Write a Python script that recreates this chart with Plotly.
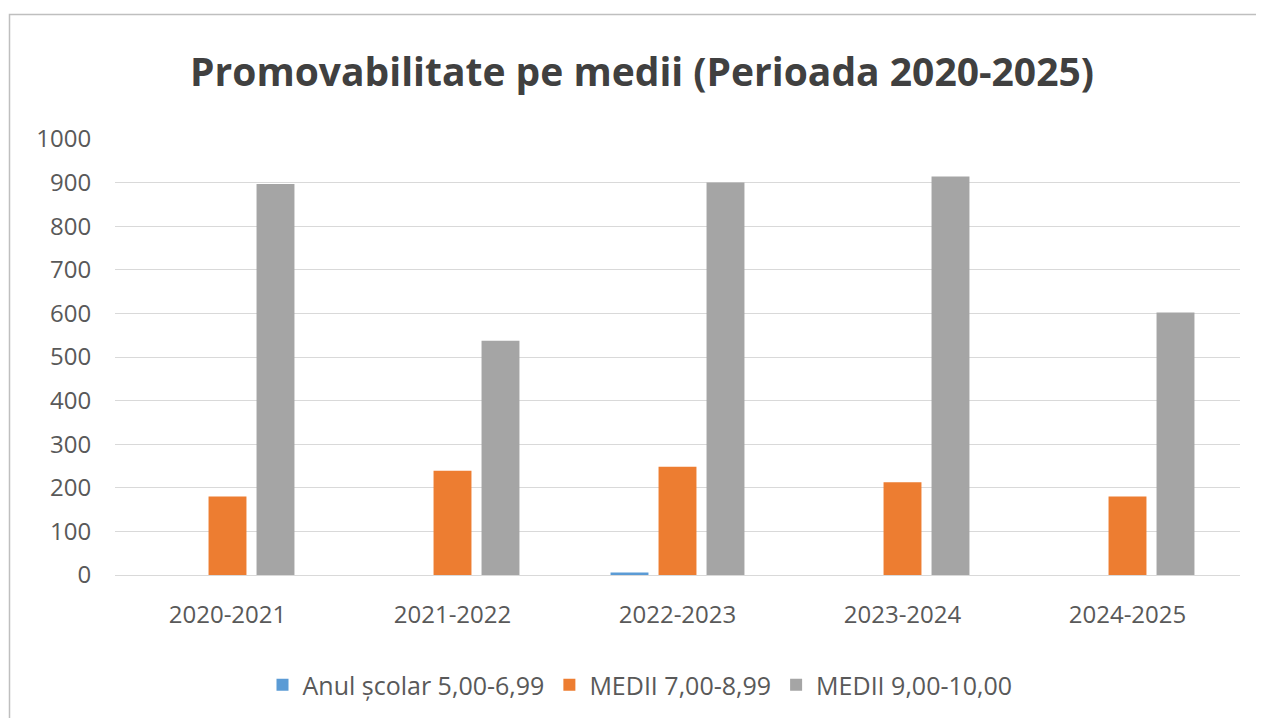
import plotly.graph_objects as go

categories = ["2020-2021", "2021-2022", "2022-2023", "2023-2024", "2024-2025"]
series_names = ["Anul școlar 5,00-6,99", "MEDII 7,00-8,99", "MEDII 9,00-10,00"]
s1 = [0, 0, 6, 0, 0]
s2 = [180, 239, 248, 213, 180]
s3 = [897, 537, 900, 914, 602]
colors = ["#5B9BD5", "#ED7D31", "#A5A5A5"]
y_ticks = [0, 100, 200, 300, 400, 500, 600, 700, 800, 900, 1000]

# page has 8px body margin; figure coords = screen coords - 8
OFF = 8
W, H = 1248, 710
L = 115 - OFF
R = W - (1240 - OFF)
T = 139 - OFF
B = H - (575 - OFF)
pw, ph = W - L - R, H - T - B

def px_x(x):
    return (x - OFF - L) / pw

def px_y(y):
    return (H - B - (y - OFF)) / ph

fig = go.Figure()
for name, vals, c in zip(series_names, [s1, s2, s3], colors):
    fig.add_trace(go.Bar(x=categories, y=vals, name=name, marker=dict(color=c, line=dict(width=0))))

font_family = "Open Sans, Noto Sans, sans-serif"
fig.update_layout(
    width=W, height=H, autosize=False,
    margin=dict(l=L, r=R, t=T, b=B, autoexpand=False),
    paper_bgcolor="white", plot_bgcolor="white",
    barmode="group", bargap=0.36, bargroupgap=0.21,
    title=dict(text="<b>Promovabilitate pe medii (Perioada 2020-2025)</b>",
               x=(642 - OFF) / W, xanchor="center", xref="container",
               y=1 - (72 - OFF) / H, yanchor="middle", yref="container",
               font=dict(family=font_family, size=39, color="#404040")),
    font=dict(family=font_family, color="#595959"),
    xaxis=dict(showgrid=False, showline=True, linecolor="#D9D9D9", linewidth=1,
               ticks="outside", ticklen=18, tickcolor="rgba(0,0,0,0)", tickangle=0,
               tickfont=dict(size=24, color="#595959"), zeroline=False),
    yaxis=dict(range=[0, 1000], tickvals=y_ticks, showgrid=True, gridcolor="#D9D9D9",
               gridwidth=1, zeroline=False, showline=False,
               ticks="outside", ticklen=18, tickcolor="rgba(0,0,0,0)",
               tickfont=dict(size=24, color="#595959")),
    legend=dict(orientation="h", x=px_x(640), xanchor="center",
                y=px_y(685), yanchor="middle",
                font=dict(size=25, color="#595959"),
                traceorder="normal"),
    shapes=[dict(type="rect", xref="paper", yref="paper",
                 x0=px_x(9.5), x1=px_x(1320), y0=px_y(780), y1=px_y(14.5),
                 line=dict(color="#BFBFBF", width=1.5), fillcolor="rgba(0,0,0,0)",
                 layer="below")],
)

fig.write_html("out.html")
